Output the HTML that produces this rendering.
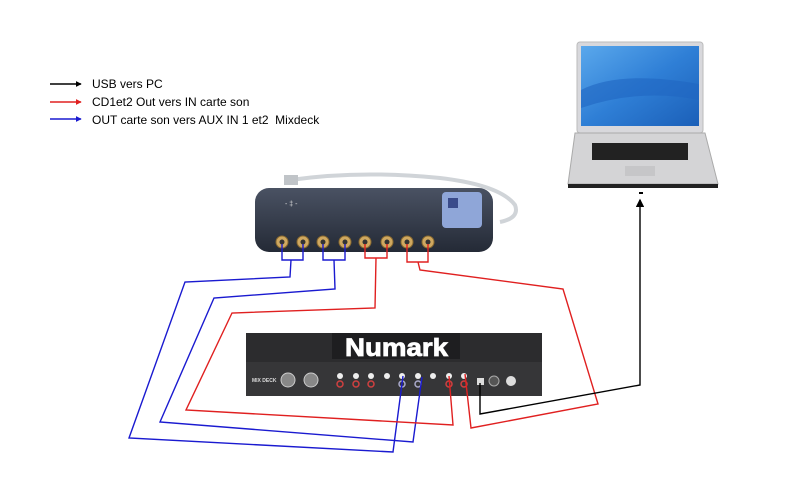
<!DOCTYPE html>
<html><head><meta charset="utf-8"><style>
html,body{margin:0;padding:0;background:#fff;width:800px;height:480px;overflow:hidden}
svg{display:block}
text{font-family:"Liberation Sans",Arial,sans-serif}
</style></head><body>
<svg width="800" height="480" viewBox="0 0 800 480" xmlns="http://www.w3.org/2000/svg">
<defs>
<linearGradient id="scr" x1="0" y1="0" x2="1" y2="1"><stop offset="0" stop-color="#5aa8ec"/><stop offset="0.5" stop-color="#2f7fd6"/><stop offset="1" stop-color="#1b5fb8"/></linearGradient>
<linearGradient id="box" x1="0" y1="0" x2="0" y2="1"><stop offset="0" stop-color="#4a5263"/><stop offset="1" stop-color="#242a36"/></linearGradient>
<marker id="ah" markerWidth="4" markerHeight="4" refX="3.5" refY="2" orient="auto"><path d="M0,0 L4,2 L0,4 z"/></marker>
<marker id="ahr" markerWidth="4" markerHeight="4" refX="3.5" refY="2" orient="auto"><path d="M0,0 L4,2 L0,4 z" fill="#e02020"/></marker>
<marker id="ahb" markerWidth="4" markerHeight="4" refX="3.5" refY="2" orient="auto"><path d="M0,0 L4,2 L0,4 z" fill="#1a1ad0"/></marker>
<marker id="ahk" markerWidth="6" markerHeight="6" refX="5" refY="3" orient="auto"><path d="M0,0 L6,3 L0,6 z"/></marker>
</defs>

<!-- legend -->
<line x1="50" y1="84" x2="81" y2="84" stroke="#000" stroke-width="1.5" marker-end="url(#ah)"/>
<line x1="50" y1="102" x2="81" y2="102" stroke="#e02020" stroke-width="1.5" marker-end="url(#ahr)"/>
<line x1="50" y1="119" x2="81" y2="119" stroke="#1a1ad0" stroke-width="1.5" marker-end="url(#ahb)"/>
<text x="92" y="88" font-size="12">USB vers PC</text>
<text x="92" y="106" font-size="12">CD1et2 Out vers IN carte son</text>
<text x="92" y="124" font-size="12" xml:space="preserve">OUT carte son vers AUX IN 1 et2  Mixdeck</text>

<!-- laptop -->
<rect x="577" y="42" width="126" height="91" rx="3" fill="#d8d8dc" stroke="#bbb"/>
<rect x="581" y="46" width="118" height="80" fill="url(#scr)"/>
<path d="M581,90 Q620,70 699,84 L699,100 Q640,88 581,108 z" fill="#1f66c2" opacity="0.6"/>
<path d="M575,133 L705,133 L718,184 L568,184 z" fill="#d4d4d6" stroke="#aaa"/>
<rect x="592" y="143" width="96" height="17" fill="#222"/>
<rect x="625" y="166" width="30" height="10" fill="#c6c6c8"/>
<rect x="568" y="184" width="150" height="4" fill="#222"/>
<rect x="639" y="192" width="4" height="2" fill="#000"/>

<!-- USB cable of sound card -->
<path d="M290,180 Q360,170 440,178 Q500,185 515,205 Q520,218 500,222" fill="none" stroke="#d0d4d8" stroke-width="4"/>
<rect x="284" y="175" width="14" height="10" fill="#c0c4c8"/>

<!-- sound card -->
<rect x="255" y="188" width="238" height="64" rx="14" fill="url(#box)"/>
<rect x="442" y="192" width="40" height="36" rx="4" fill="#8fa6d8"/>
<rect x="448" y="198" width="10" height="10" fill="#3a4b8a"/>
<text x="285" y="206" font-size="7" fill="#ddd">- ‡ -</text>
<g fill="#cfa860" stroke="#8a6a30" stroke-width="1">
<circle cx="282" cy="242" r="6"/><circle cx="303" cy="242" r="6"/><circle cx="323" cy="242" r="6"/><circle cx="345" cy="242" r="6"/>
<circle cx="365" cy="242" r="6"/><circle cx="387" cy="242" r="6"/><circle cx="407" cy="242" r="6"/><circle cx="428" cy="242" r="6"/>
</g>
<g fill="#333"><circle cx="282" cy="242" r="2.5"/><circle cx="303" cy="242" r="2.5"/><circle cx="323" cy="242" r="2.5"/><circle cx="345" cy="242" r="2.5"/><circle cx="365" cy="242" r="2.5"/><circle cx="387" cy="242" r="2.5"/><circle cx="407" cy="242" r="2.5"/><circle cx="428" cy="242" r="2.5"/></g>

<!-- Numark -->
<rect x="246" y="333" width="296" height="63" fill="#2c2c2e"/>
<rect x="332" y="333" width="128" height="26" fill="#1e1e20"/>
<rect x="246" y="362" width="296" height="34" fill="#363638"/>
<text x="345" y="356" font-size="25" font-weight="bold" fill="#fff" textLength="103" lengthAdjust="spacingAndGlyphs" stroke="#fff" stroke-width="0.8">Numark</text>
<text x="252" y="382" font-size="5" font-weight="bold" fill="#ddd">MIX DECK</text>
<g fill="#888" stroke="#ccc"><circle cx="288" cy="380" r="7"/><circle cx="311" cy="380" r="7"/></g>
<g fill="#eee">
<circle cx="340" cy="376" r="3"/><circle cx="356" cy="376" r="3"/><circle cx="371" cy="376" r="3"/><circle cx="387" cy="376" r="3"/><circle cx="402" cy="376" r="3"/><circle cx="418" cy="376" r="3"/><circle cx="433" cy="376" r="3"/><circle cx="449" cy="376" r="3"/><circle cx="464" cy="376" r="3"/>
</g>
<g fill="none" stroke="#d04040" stroke-width="1.5">
<circle cx="340" cy="384" r="3"/><circle cx="356" cy="384" r="3"/><circle cx="371" cy="384" r="3"/><circle cx="449" cy="384" r="3"/><circle cx="464" cy="384" r="3"/>
</g>
<g fill="none" stroke="#aac" stroke-width="1.5"><circle cx="402" cy="384" r="3"/><circle cx="418" cy="384" r="3"/></g>
<rect x="477" y="378" width="7" height="7" fill="#ddd"/>
<circle cx="494" cy="381" r="5" fill="#555" stroke="#aaa"/>
<circle cx="511" cy="381" r="5" fill="#ddd"/>

<!-- connectors -->
<g fill="none" stroke-width="1.4">
<path d="M282,244 L282,260 L303,260 L303,244 M291,260 L290,277 L185,282 L129,438 L393,452 L403,376" stroke="#1a1ad0"/>
<path d="M323,244 L323,260 L345,260 L345,244 M334,260 L335,289 L214,298 L160,422 L413,442 L422,377" stroke="#1a1ad0"/>
<path d="M365,244 L365,258 L387,258 L387,244 M376,258 L375,308 L232,313 L186,410 L453,425 L449,376" stroke="#e02020"/>
<path d="M407,244 L407,262 L428,262 L428,244 M418,262 L420,270 L563,289 L598,404 L471,428 L465,374" stroke="#e02020"/>
<path d="M480,383 L480,414 L640,385 L640,200" stroke="#000" marker-end="url(#ahk)"/>
</g>
</svg>
</body></html>
